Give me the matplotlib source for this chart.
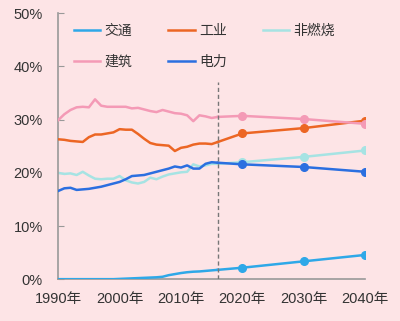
import matplotlib
matplotlib.use("Agg")
import matplotlib.pyplot as plt

plt.rcParams['font.family'] = ['Liberation Sans', 'Noto Sans CJK SC', 'DejaVu Sans']

hist_years = list(range(1990, 2017))
proj_years = [2016, 2020, 2030, 2040]

transport_hist = [0.05, 0.05, 0.05, 0.05, 0.05, 0.05, 0.05, 0.05, 0.05, 0.05,
                  0.1, 0.15, 0.2, 0.25, 0.3, 0.35, 0.4, 0.5, 0.8, 1.0,
                  1.2, 1.35, 1.45, 1.5, 1.6, 1.7, 1.8]
industry_hist = [26.3, 26.2, 26.0, 25.9, 25.8, 26.7, 27.2, 27.2, 27.4, 27.6,
                 28.2, 28.1, 28.1, 27.3, 26.4, 25.6, 25.3, 25.2, 25.1, 24.1,
                 24.7, 24.9, 25.3, 25.5, 25.5, 25.4, 25.8]
nonburn_hist = [20.0, 19.8, 19.9, 19.6, 20.2, 19.5, 18.9, 18.8, 18.9, 18.9,
                19.4, 18.6, 18.2, 18.0, 18.3, 19.1, 18.8, 19.3, 19.7, 19.9,
                20.1, 20.2, 21.6, 21.2, 21.4, 21.7, 21.7]
building_hist = [29.9, 31.0, 31.8, 32.3, 32.4, 32.3, 33.8, 32.6, 32.4, 32.4,
                 32.4, 32.4, 32.1, 32.2, 31.9, 31.6, 31.4, 31.8, 31.5, 31.2,
                 31.1, 30.8, 29.7, 30.8, 30.6, 30.3, 30.5]
power_hist = [16.6, 17.1, 17.2, 16.8, 16.9, 17.0, 17.2, 17.4, 17.7, 18.0,
              18.3, 18.8, 19.4, 19.5, 19.6, 19.9, 20.2, 20.5, 20.8, 21.2,
              21.0, 21.4, 20.8, 20.8, 21.7, 22.0, 21.9]

transport_proj = [2.2, 3.4, 4.6]
industry_proj = [27.4, 28.4, 29.8]
nonburn_proj = [22.0, 23.0, 24.2]
building_proj = [30.7, 30.1, 29.2]
power_proj = [21.6, 21.1, 20.2]

labels = ['交通', '工业', '非燃烧', '建筑', '电力']
colors = ['#2ea8e8', '#ec6624', '#a6e3e3', '#f49ab6', '#2b6fe0']
zorders = [3, 3, 2, 4, 3]

y_ticks = [0, 10, 20, 30, 40, 50]
y_ticklabels = ['0%', '10%', '20%', '30%', '40%', '50%']
x_ticks = [1990, 2000, 2010, 2020, 2030, 2040]
x_ticklabels = ['1990年', '2000年', '2010年', '2020年', '2030年', '2040年']
split_year = 2016

bg = '#fde4e6'
fig = plt.figure(figsize=(4.0, 3.21), dpi=100, facecolor=bg)
ax = fig.add_axes([0.1455, 0.1295, 0.7675, 0.83])
ax.set_facecolor(bg)

hists = [transport_hist, industry_hist, nonburn_hist, building_hist, power_hist]
projs = [transport_proj, industry_proj, nonburn_proj, building_proj, power_proj]
handles = {}
for lab, col, z, h, p in zip(labels, colors, zorders, hists, projs):
    ln, = ax.plot(hist_years, h, color=col, lw=1.8, zorder=z, label=lab)
    ax.plot(proj_years, [h[-1]] + p, color=col, lw=1.8, zorder=z)
    ax.plot(proj_years[1:], p, 'o', color=col, ms=5.5, zorder=z + 0.5)
    handles[lab] = ln

ax.plot([split_year, split_year], [0, 37], ls=(0, (3, 2)), color='#777777', lw=1.0, zorder=5)

ax.set_xlim(1990, 2040)
ax.set_ylim(0, 50)
ax.set_yticks(y_ticks)
ax.set_yticklabels(y_ticklabels)
ax.set_xticks(x_ticks)
ax.set_xticklabels(x_ticklabels)
ax.tick_params(axis='y', direction='in', length=4, color='#999999', labelsize=10.5,
               labelcolor='#333333', pad=11)
ax.tick_params(axis='x', length=0, labelsize=10.5, labelcolor='#333333', pad=9)
for s in ['top', 'right']:
    ax.spines[s].set_visible(False)
for s in ['left', 'bottom']:
    ax.spines[s].set_color('#999999')
    ax.spines[s].set_linewidth(1.2)

order = ['交通', '建筑', '工业', '电力', '非燃烧']
fig.legend([handles[k] for k in order], order, ncol=3, frameon=False,
           loc='upper left', bbox_to_anchor=(0.185, 0.925), borderpad=0,
           borderaxespad=0, handlelength=1.9, handletextpad=0.3,
           columnspacing=2.6, labelspacing=1.2, fontsize=10,
           labelcolor='#333333')

fig.savefig('out.png', dpi=100, facecolor=bg)
